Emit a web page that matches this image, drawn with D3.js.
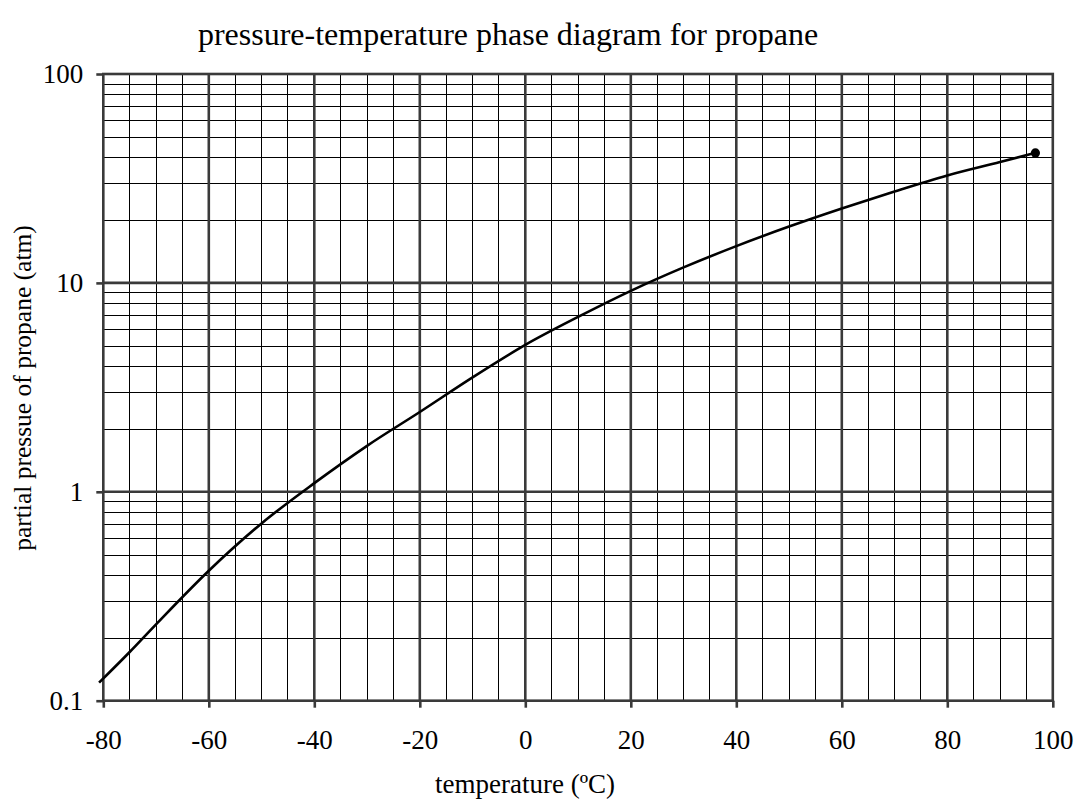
<!DOCTYPE html>
<html><head><meta charset="utf-8">
<script src="https://cdn.jsdelivr.net/npm/d3@7"></script>
<style>
body{margin:0;background:#fff;}
svg{display:block;font-family:"Liberation Serif","Times New Roman",serif;}
</style></head>
<body>
<svg id="c" width="1081" height="804"></svg>
<script>
// data
const temps = [-80.8, -75, -70, -60, -50, -40, -30, -20, -10, 0, 10, 20, 30, 40, 50, 60, 70, 80, 90, 96.7];
const pressures = [0.122, 0.171, 0.232, 0.419, 0.706, 1.10, 1.66, 2.41, 3.53, 5.05, 6.87, 9.16, 11.86, 15.0, 18.6, 22.7, 27.4, 32.7, 37.9, 41.9];
const criticalPoint = [96.7, 41.9];
const xTicks = [-80, -60, -40, -20, 0, 20, 40, 60, 80, 100];
const yTicks = [0.1, 1, 10, 100];
const yTickLabels = ["0.1", "1", "10", "100"];

const L = 103.3, R = 1052.8, T = 74, B = 700.7;
const svg = d3.select("#c");
const x = d3.scaleLinear().domain([-80, 100]).range([L, R]);
const y = d3.scaleLog().domain([0.1, 100]).range([B, T]);

// minor grid
const minorX = d3.range(-75, 100, 5).filter(v => v % 20 !== 0);
const minorY = [];
[0.1, 1, 10].forEach(d => { for (let k = 2; k <= 9; k++) minorY.push(d * k); });
const g = svg.append("g");
g.selectAll(".mx").data(minorX).join("line")
  .attr("x1", d => x(d)).attr("x2", d => x(d)).attr("y1", T).attr("y2", B)
  .attr("stroke", "#000").attr("stroke-width", 1).attr("shape-rendering","crispEdges");
g.selectAll(".my").data(minorY).join("line")
  .attr("y1", d => Math.round(y(d))+0.5).attr("y2", d => Math.round(y(d))+0.5).attr("x1", L).attr("x2", R)
  .attr("stroke", "#000").attr("stroke-width", 1);
// major grid
g.selectAll(".Mx").data(xTicks.slice(1, -1)).join("line")
  .attr("x1", d => x(d)).attr("x2", d => x(d)).attr("y1", T).attr("y2", B)
  .attr("stroke", "#3a3a3a").attr("stroke-width", 2.6);
g.selectAll(".My").data([1, 10]).join("line")
  .attr("y1", d => y(d)).attr("y2", d => y(d)).attr("x1", L).attr("x2", R)
  .attr("stroke", "#3a3a3a").attr("stroke-width", 2.6);
// frame
svg.append("rect").attr("x", L).attr("y", T).attr("width", R - L).attr("height", B - T)
  .attr("fill", "none").attr("stroke", "#3a3a3a").attr("stroke-width", 2.6);

// axes
const xAxis = d3.axisBottom(x).tickValues(xTicks).tickSize(7).tickPadding(22)
  .tickFormat(d => d < 0 ? "-" + Math.abs(d) : d);
const xa = svg.append("g").attr("transform", `translate(0,${B})`).call(xAxis);
xa.select(".domain").remove();
xa.selectAll(".tick line").attr("stroke", "#3a3a3a").attr("stroke-width", 2.6);
xa.selectAll(".tick text").attr("font-size", 27).attr("fill", "#000").attr("font-family", "Liberation Serif");

const yAxis = d3.axisLeft(y).tickValues(yTicks).tickSize(7).tickPadding(13)
  .tickFormat((d, i) => yTickLabels[i]);
const ya = svg.append("g").attr("transform", `translate(${L},0)`).call(yAxis);
ya.select(".domain").remove();
ya.selectAll(".tick line").attr("stroke", "#3a3a3a").attr("stroke-width", 2.6);
ya.selectAll(".tick text").attr("font-size", 27).attr("fill", "#000").attr("font-family", "Liberation Serif");

// curve
const pts = temps.map((t, i) => [t, pressures[i]]);
svg.append("path").datum(pts)
  .attr("d", d3.line().x(d => x(d[0])).y(d => y(d[1])).curve(d3.curveMonotoneX))
  .attr("fill", "none").attr("stroke", "#000").attr("stroke-width", 2.6);
svg.append("circle").attr("cx", x(criticalPoint[0])).attr("cy", y(criticalPoint[1])).attr("r", 4.6).attr("fill", "#000");

// titles
svg.append("text").attr("x", 508).attr("y", 45).attr("text-anchor", "middle")
  .attr("font-size", 32).text("pressure-temperature phase diagram for propane");
svg.append("text").attr("x", 525).attr("y", 793).attr("text-anchor", "middle")
  .attr("font-size", 27).text("temperature (ºC)");
svg.append("text").attr("transform", "translate(31,388) rotate(-90)").attr("text-anchor", "middle")
  .attr("font-size", 25.5).text("partial pressue of propane (atm)");
</script>
</body></html>
